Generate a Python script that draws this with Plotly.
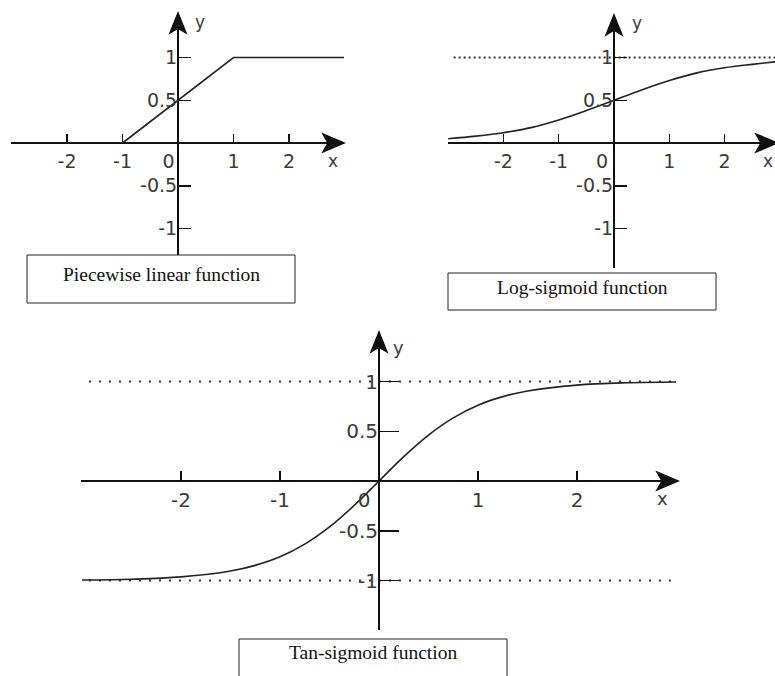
import plotly.graph_objects as go

W, H = 775, 676

# ---------------- data ----------------
pw_x = [-1.0, 1.0, 3.0]
pw_y = [0.0, 1.0, 1.0]

ls_x = [-3.0, -2.5, -2.0, -1.5, -1.0, -0.5, 0.0, 0.5, 1.0, 1.5, 2.0, 2.5, 2.92]
ls_y = [0.05, 0.08, 0.12, 0.18, 0.27, 0.38, 0.50, 0.62, 0.73, 0.82, 0.88, 0.92, 0.95]
ls_limit_x = [-2.9, 2.92]
ls_limit_y = [1.0, 1.0]

ts_x = [-3.0, -2.5, -2.0, -1.5, -1.25, -1.0, -0.75, -0.5, -0.25, 0.0,
        0.25, 0.5, 0.75, 1.0, 1.25, 1.5, 2.0, 2.5, 3.0]
ts_y = [-0.995, -0.987, -0.964, -0.905, -0.848, -0.762, -0.635, -0.462, -0.245, 0.0,
        0.245, 0.462, 0.635, 0.762, 0.848, 0.905, 0.964, 0.987, 0.995]
ts_limit_x = [-2.93, 3.0]
ts_upper_y = [1.0, 1.0]
ts_lower_y = [-1.0, -1.0]

x_tick_vals = [-2, -1, 0, 1, 2]
x_tick_text = ["-2", "-1", "0", "1", "2"]
y_tick_vals = [-1, -0.5, 0.5, 1]
y_tick_text = ["-1", "-0.5", "0.5", "1"]

captions = ["Piecewise linear function", "Log-sigmoid function", "Tan-sigmoid function"]

# ---------------- panel geometry (pixels) ----------------
panels = [
    dict(ox=178, oy=143, ux=55.5, uy=85.5, left=11, right=344, top=13, bottom=255,
         xtick=8, ytick=12, fs=19, zpad="\u2003",
         box=(27, 255, 295, 303), cap_y=274, xlab=(333, 161), ylab=(200, 22)),
    dict(ox=614, oy=143, ux=55.3, uy=85.5, left=448, right=777, top=15, bottom=268,
         xtick=8, ytick=12, fs=19, zpad="\u2003\u2005",
         box=(448, 273, 716, 310), cap_y=287, xlab=(768, 161), ylab=(637, 23)),
    dict(ox=379, oy=481, ux=99.0, uy=99.5, left=81, right=678, top=332, bottom=630,
         xtick=9, ytick=19, fs=20, zpad="\u2003\u2002",
         box=(239, 639, 507, 682), cap_y=652, xlab=(662, 498), ylab=(398, 347)),
]

AX = "#111111"
CURVE = "#222222"
DOT = "#333333"
LBL = "#3a3a3a"
SANS = "DejaVu Sans, Verdana, sans-serif"
SERIF = "Liberation Serif, Times New Roman, serif"

# dart-shaped arrow heads (pixel offsets from the tip)
ARROW_RIGHT = "M0,0 L-21,9 L-16,0 L-21,-9 Z"
ARROW_UP = "M0,0 L-8,-20 L0,-15 L8,-20 Z"


def px(xp):
    return xp / W


def py(yp):
    return 1 - yp / H


fig = go.Figure()
layout = dict(width=W, height=H, margin=dict(l=0, r=0, t=0, b=0),
              paper_bgcolor="white", plot_bgcolor="white", showlegend=False,
              autosize=False)
shapes, annotations = [], []

for i, p in enumerate(panels):
    n = "" if i == 0 else str(i + 1)
    xr = [(p["left"] - p["ox"]) / p["ux"], (p["right"] - p["ox"]) / p["ux"]]
    yr = [(p["oy"] - p["bottom"]) / p["uy"], (p["oy"] - p["top"]) / p["uy"]]
    xt = [t if v != 0 else t + p["zpad"] for v, t in zip(x_tick_vals, x_tick_text)]
    xdom_end = min(1.0, px(p["right"]))
    if xdom_end < 1.0:
        xr_use = xr
    else:
        xr_use = [xr[0], (W - p["ox"]) / p["ux"]]
    layout["xaxis" + n] = dict(
        domain=[px(p["left"]), xdom_end], range=xr_use, anchor="free",
        position=py(p["oy"]), showline=True, linecolor=AX, linewidth=2,
        ticks="inside", ticklen=p["xtick"], tickwidth=1.5, tickcolor=AX,
        tickvals=x_tick_vals, ticktext=xt, showgrid=False, zeroline=False,
        tickfont=dict(family=SANS, size=p["fs"], color=LBL), fixedrange=True,
        ticklabelstandoff=1,
    )
    layout["yaxis" + n] = dict(
        domain=[py(p["bottom"]), py(p["top"])], range=yr, anchor="free",
        position=px(p["ox"]), showline=True, linecolor=AX, linewidth=2,
        ticks="inside", ticklen=p["ytick"], tickwidth=1.5, tickcolor=AX,
        tickvals=y_tick_vals, ticktext=y_tick_text, showgrid=False, zeroline=False,
        tickfont=dict(family=SANS, size=p["fs"], color=LBL), fixedrange=True,
        ticklabelstandoff=-4,
    )
    # arrow heads at the end of each axis
    shapes.append(dict(type="path", xref="paper", yref="paper",
                       xsizemode="pixel", ysizemode="pixel",
                       xanchor=p["right"] / W, yanchor=py(p["oy"]),
                       path=ARROW_RIGHT, fillcolor=AX, line=dict(color=AX, width=1.5)))
    shapes.append(dict(type="path", xref="paper", yref="paper",
                       xsizemode="pixel", ysizemode="pixel",
                       xanchor=px(p["ox"]), yanchor=py(p["top"]),
                       path=ARROW_UP, fillcolor=AX, line=dict(color=AX, width=1.5)))
    # axis names
    annotations.append(dict(xref="paper", yref="paper", x=px(p["xlab"][0]), y=py(p["xlab"][1]),
                            xanchor="center", yanchor="middle",
                            text="x", showarrow=False, font=dict(family=SANS, size=p["fs"] - 2, color=LBL)))
    annotations.append(dict(xref="paper", yref="paper", x=px(p["ylab"][0]), y=py(p["ylab"][1]),
                            xanchor="center", yanchor="middle",
                            text="y", showarrow=False, font=dict(family=SANS, size=p["fs"] - 2, color=LBL)))
    # caption box
    bx0, by0, bx1, by1 = p["box"]
    shapes.append(dict(type="rect", xref="paper", yref="paper", x0=px(bx0), x1=px(bx1),
                       y0=py(by1), y1=py(by0), fillcolor="white",
                       line=dict(color="#222", width=1), layer="above"))
    annotations.append(dict(xref="paper", yref="paper", x=px((bx0 + bx1) / 2), y=py(p["cap_y"]),
                            xanchor="center", yanchor="middle",
                            text=captions[i], showarrow=False,
                            font=dict(family=SERIF, size=19.5, color="#111")))

# traces
fig.add_trace(go.Scatter(x=pw_x, y=pw_y, mode="lines", xaxis="x", yaxis="y",
                         line=dict(color=CURVE, width=1.6)))

fig.add_trace(go.Scatter(x=ls_limit_x, y=ls_limit_y, mode="lines", xaxis="x2", yaxis="y2",
                         line=dict(color=DOT, width=2, dash="2px,3px")))
fig.add_trace(go.Scatter(x=ls_x, y=ls_y, mode="lines", xaxis="x2", yaxis="y2",
                         line=dict(color=CURVE, width=1.6, shape="spline")))

fig.add_trace(go.Scatter(x=ts_limit_x, y=ts_upper_y, mode="lines", xaxis="x3", yaxis="y3",
                         line=dict(color=DOT, width=2, dash="2px,8px")))
fig.add_trace(go.Scatter(x=ts_limit_x, y=ts_lower_y, mode="lines", xaxis="x3", yaxis="y3",
                         line=dict(color=DOT, width=2, dash="2px,8px")))
fig.add_trace(go.Scatter(x=ts_x, y=ts_y, mode="lines", xaxis="x3", yaxis="y3",
                         line=dict(color=CURVE, width=1.6, shape="spline")))

layout["shapes"] = shapes
layout["annotations"] = annotations
fig.update_layout(**layout)

fig.write_html("out.html", config={"displayModeBar": False, "staticPlot": True},
               post_script="document.body.style.margin='0';document.body.style.overflow='hidden';")
